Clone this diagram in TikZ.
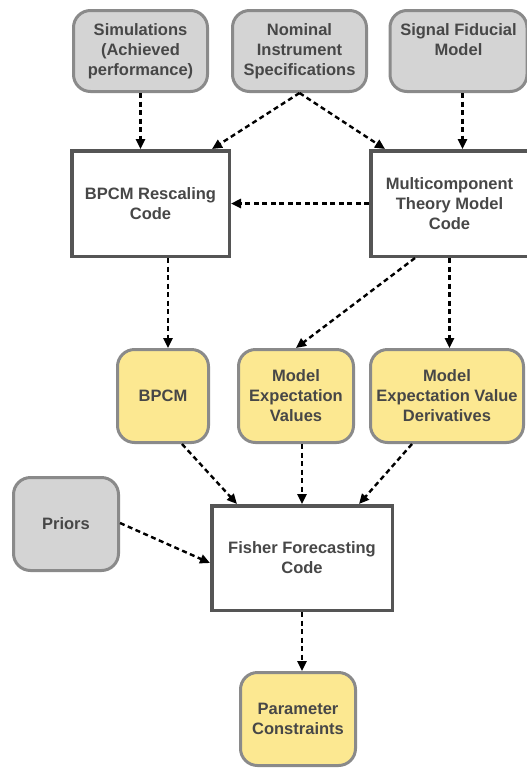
\documentclass[tikz,border=0pt]{standalone}
\usepackage{fontspec}
\setmainfont{Liberation Sans}
\usetikzlibrary{arrows.meta,calc}
\definecolor{gfill}{HTML}{D4D4D4}
\definecolor{gline}{HTML}{8A8A8A}
\definecolor{yfill}{HTML}{FCE891}
\definecolor{cline}{HTML}{555555}
\definecolor{txt}{HTML}{474747}
\begin{document}
\begin{tikzpicture}[x=1pt,y=-1pt,
  every node/.style={font=\bfseries\fontsize{16.5}{20}\selectfont, text=txt, align=center, inner sep=0pt},
  ibox/.style={draw=gline, fill=gfill, line width=3pt, rounded corners=17pt},
  ybox/.style={draw=gline, fill=yfill, line width=3pt, rounded corners=17pt},
  cbox/.style={draw=cline, fill=white, line width=3.5pt},
  arr/.style={-{Triangle[length=10pt,width=9pt]}, line width=2.4pt, dash pattern=on 5pt off 3.5pt}]
\useasboundingbox (0,0) rectangle (527,769);

\node[ibox, minimum width=134pt, minimum height=81pt] (sim) at (140.5,51) {Simulations\\(Achieved\\performance)};
\node[ibox, minimum width=134pt, minimum height=81pt] (nom) at (299.5,51) {Nominal\\Instrument\\Specifications};
\node[ibox, minimum width=137pt, minimum height=81pt] (sig) at (458.5,51) {Signal Fiducial\\Model\\\vphantom{p}};

\node[cbox, minimum width=157.5pt, minimum height=105.5pt] (resc) at (150.5,203.5) {BPCM Rescaling\\Code};
\node[cbox, minimum width=157.5pt, minimum height=105.5pt] (multi) at (449.5,203.5) {Multicomponent\\Theory Model\\Code};

\node[ybox, minimum width=91pt, minimum height=93pt] (bpcm) at (163,396) {BPCM};
\node[ybox, minimum width=115pt, minimum height=93pt] (mev) at (296,396) {Model\\Expectation\\Values};
\node[ybox, minimum width=153pt, minimum height=93pt] (der) at (447,396) {Model\\Expectation Value\\Derivatives};

\node[ibox, minimum width=105pt, minimum height=93pt] (pri) at (66,524) {Priors};
\node[cbox, minimum width=180.5pt, minimum height=104.5pt] (fish) at (302,558) {Fisher Forecasting\\Code};
\node[ybox, minimum width=115pt, minimum height=93pt] (par) at (298,719) {Parameter\\Constraints};

\draw[arr] (sim.south) -- (sim.south |- resc.north);
\draw[arr] (nom.south) -- ($(resc.north east)+(-19,0)$);
\draw[arr] (nom.south) -- ($(multi.north west)+(16,0)$);
\draw[arr] ([xshift=4pt]sig.south) -- ([xshift=4pt]sig.south |- multi.north);
\draw[arr] (multi.west) -- (resc.east);
\draw[arr] ([xshift=17.5pt]resc.south) -- ([xshift=17.5pt]resc.south |- bpcm.north);
\draw[arr] ([xshift=-34.5pt]multi.south) -- (mev.north);
\draw[arr] (multi.south) -- (multi.south |- der.north);
\draw[arr] ([xshift=19pt]bpcm.south) -- ($(fish.north west)+(27,0)$);
\draw[arr] ([xshift=6pt]mev.south) -- ([xshift=6pt]mev.south |- fish.north);
\draw[arr] ([xshift=-35pt]der.south) -- ($(fish.north east)+(-35,0)$);
\draw[arr] ([yshift=1pt]pri.east) -- ([yshift=-5pt]fish.west);
\draw[arr] (fish.south) -- (fish.south |- par.north);
\end{tikzpicture}
\end{document}
